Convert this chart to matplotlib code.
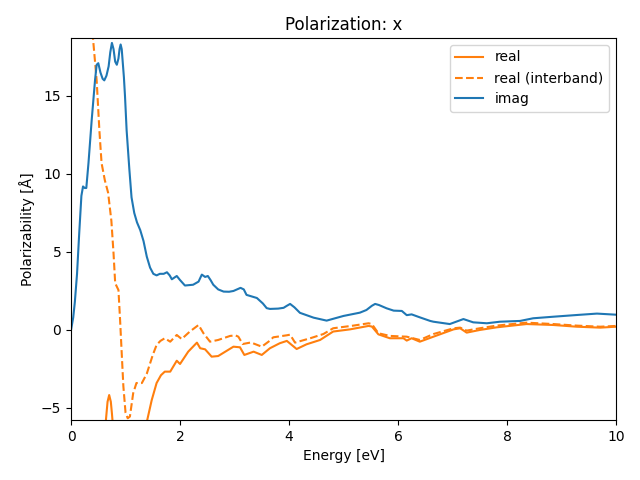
import matplotlib
matplotlib.use("Agg")
import matplotlib.pyplot as plt

# imag part
E_imag = [0, 0.04, 0.07, 0.11, 0.15, 0.19, 0.22, 0.25, 0.28, 0.32, 0.38, 0.44, 0.47, 0.50,
          0.54, 0.58, 0.61, 0.65, 0.69, 0.72, 0.75, 0.78, 0.81, 0.84, 0.87, 0.89, 0.91,
          0.93, 0.95, 0.97, 0.99, 1.02, 1.07, 1.11, 1.16, 1.21, 1.27, 1.33, 1.39, 1.45,
          1.51, 1.57, 1.63, 1.70, 1.76, 1.81, 1.85, 1.94, 2.0, 2.09, 2.24, 2.34, 2.40,
          2.46, 2.51, 2.56, 2.61, 2.70, 2.80, 2.90, 2.98, 3.11, 3.17, 3.22, 3.41, 3.52,
          3.59, 3.65, 3.80, 3.90, 3.96, 4.02, 4.10, 4.20, 4.45, 4.69, 5.0, 5.30, 5.42,
          5.52, 5.58, 5.65, 5.79, 5.92, 6.07, 6.16, 6.25, 6.40, 6.59, 6.65, 6.95, 7.20,
          7.38, 7.63, 7.87, 8.24, 8.48, 8.85, 9.28, 9.65, 10.0]
imag = [0, 0.8, 1.8, 3.6, 6.2, 8.6, 9.2, 9.1, 9.1, 10.7, 13.5, 16.0, 17.0, 17.1,
        16.5, 16.1, 16.0, 16.3, 16.9, 17.8, 18.4, 18.0, 17.2, 17.0, 17.4, 18.0, 18.3,
        18.0, 17.1, 16.2, 15.0, 12.8, 10.3, 8.5, 7.5, 6.9, 6.4, 5.7, 4.7, 4.0,
        3.6, 3.5, 3.6, 3.6, 3.7, 3.5, 3.25, 3.46, 3.2, 2.85, 2.9, 3.1, 3.55,
        3.4, 3.46, 3.2, 2.9, 2.6, 2.46, 2.45, 2.5, 2.7, 2.6, 2.25, 2.05, 1.7,
        1.4, 1.35, 1.37, 1.42, 1.55, 1.67, 1.45, 1.1, 0.79, 0.6, 0.9, 1.11, 1.28,
        1.55, 1.67, 1.6, 1.39, 1.24, 1.22, 0.95, 1.0, 0.81, 0.58, 0.53, 0.38, 0.7,
        0.49, 0.43, 0.53, 0.58, 0.75, 0.85, 0.96, 1.05, 0.98]

# real (interband)
E_inter = [0.30, 0.40, 0.47, 0.52, 0.56, 0.62, 0.68, 0.74, 0.78, 0.81, 0.87, 0.90,
           0.93, 0.96, 1.00, 1.04, 1.08, 1.14, 1.20, 1.30, 1.39, 1.50, 1.57, 1.64, 1.72,
           1.82, 1.94, 2.03, 2.18, 2.34, 2.43, 2.55, 2.70, 2.92, 3.02, 3.07, 3.15, 3.30,
           3.50, 3.65, 3.71, 3.96, 4.02, 4.11, 4.39, 4.63, 4.81, 5.18, 5.46, 5.52, 5.64,
           5.85, 6.16, 6.40, 6.65, 7.02, 7.14, 7.26, 7.50, 7.81, 8.36, 8.85, 9.28, 9.71,
           10.0]
real_inter = [25, 18.8, 16.0, 12.8, 10.7, 9.6, 8.8, 7.0, 4.9, 3.0, 2.56, 0.64,
              -1.5, -3.6, -5.3, -5.66, -5.55, -4.06, -3.4, -3.4, -2.8, -1.6, -0.96, -0.7,
              -0.53, -0.75, -0.32, -0.58, -0.1, 0.32, -0.21, -0.75, -0.64, -0.38, -0.35,
              -0.43, -0.9, -0.8, -1.07, -0.68, -0.47, -0.34, -0.3, -0.81, -0.53, -0.26,
              0.11, 0.28, 0.43, 0.38, -0.21, -0.38, -0.43, -0.64, -0.26, 0.11, 0.15, -0.04,
              0.11, 0.28, 0.47, 0.38, 0.28, 0.21, 0.26]

# real (total)
E_real = [0.55, 0.64, 0.67, 0.70, 0.73, 0.75, 0.80, 1.0, 1.30, 1.39, 1.48, 1.57, 1.65,
          1.72, 1.82, 1.94, 2.0, 2.15, 2.31, 2.37, 2.46, 2.58, 2.70, 2.98, 3.10, 3.18,
          3.35, 3.50, 3.65, 3.83, 3.96, 4.14, 4.32, 4.57, 4.81, 5.12, 5.46, 5.52, 5.64,
          5.85, 6.10, 6.16, 6.25, 6.40, 6.65, 7.02, 7.14, 7.26, 7.50, 7.81, 8.36, 8.85,
          9.28, 9.71, 10.0]
real = [-9, -5.77, -4.6, -4.17, -4.6, -5.34, -7.5, -10, -7.5, -5.9, -4.5, -3.4, -2.9,
        -2.67, -2.67, -1.97, -2.18, -1.39, -0.81, -1.17, -1.24, -1.71, -1.67, -1.07, -1.11, -1.6,
        -1.39, -1.6, -1.17, -0.85, -0.7, -1.22, -0.92, -0.64, -0.1, 0.04, 0.26, 0.22, -0.28,
        -0.53, -0.53, -0.68, -0.53, -0.75, -0.43, 0.04, 0.11, -0.17, 0.0, 0.17, 0.38, 0.32,
        0.21, 0.15, 0.21]

fig, ax = plt.subplots(figsize=(6.4, 4.8), dpi=100)
ax.plot(E_real, real, color="C1", label="real")
ax.plot(E_inter, real_inter, color="C1", ls="--", label="real (interband)")
ax.plot(E_imag, imag, color="C0", label="imag")
ax.set_xlim(0, 10)
ax.set_ylim(-5.77, 18.72)
ax.set_xlabel("Energy [eV]")
ax.set_ylabel("Polarizability [Å]")
ax.set_title("Polarization: x")
ax.legend(loc="upper right")
fig.tight_layout()
fig.subplots_adjust(left=0.111, right=0.9625, top=0.921, bottom=0.125)
fig.savefig("out.png")
